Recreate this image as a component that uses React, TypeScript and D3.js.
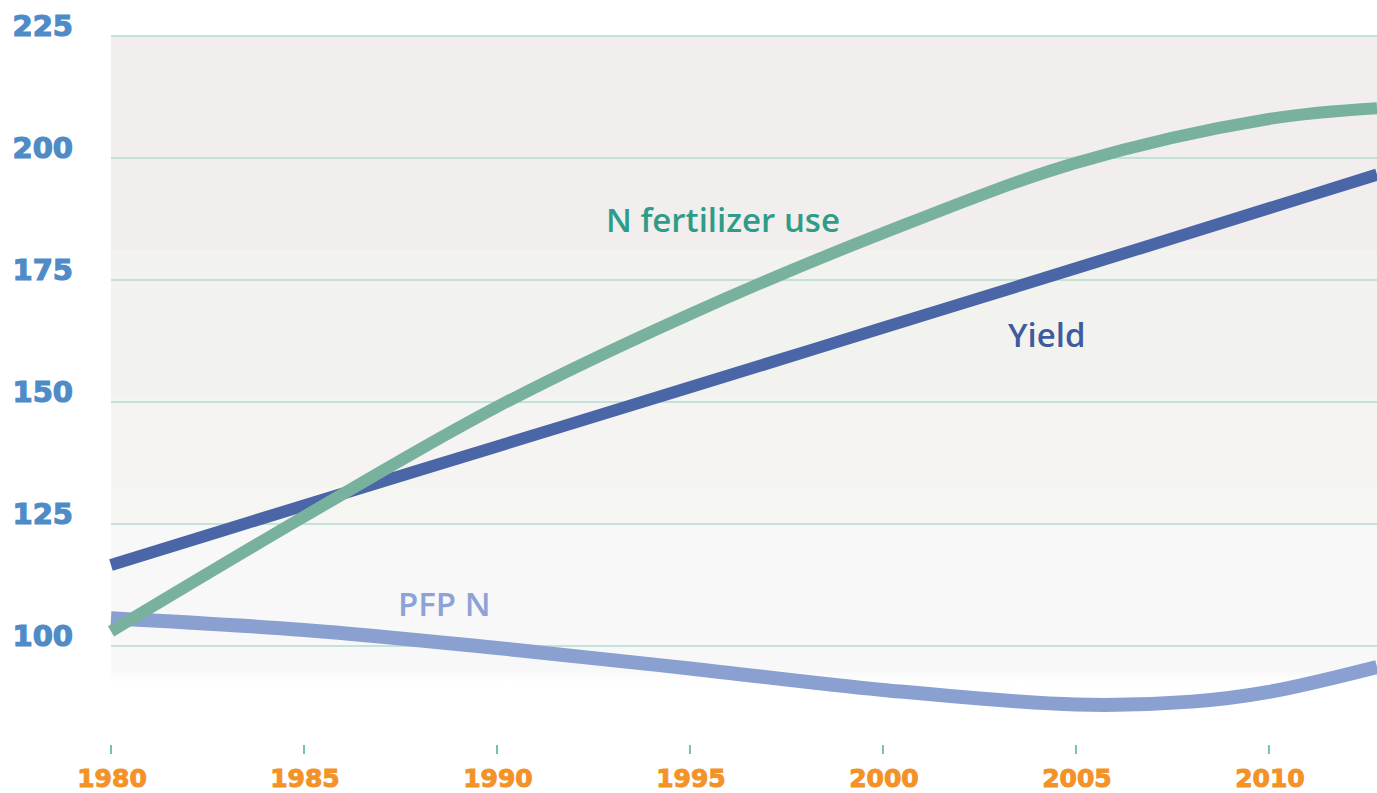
import { useEffect, useRef } from 'react'
import * as d3 from 'd3'

const WIDTH = 1377
const HEIGHT = 793

// values
const years = [1980, 1985, 1990, 1995, 2000, 2005, 2010, 2012.8]
const fertilizerUse = [103.0, 126.5, 149.0, 168.0, 184.6, 199.0, 208.0, 210.2]
const yieldValues = [116.6, 128.8, 140.9, 153.0, 165.2, 177.4, 189.7, 196.6]
const pfpYears = [1980, 1985, 1990, 1995, 2000, 2005, 2008, 2010, 2012.8]
const pfpN = [105.7, 103.3, 99.6, 95.4, 91.0, 88.0, 88.6, 90.6, 95.7]

const yTicks = [100, 125, 150, 175, 200, 225]
const xTicks = [1980, 1985, 1990, 1995, 2000, 2005, 2010]

// soft background bands (value ranges, top to bottom)
const bandTops = [225, 181, 151, 133, 125]
const bandBottoms = [181, 151, 133, 125, 95]
const bandColors = ['#f2eeee', '#f2f3ee', '#f6f3f3', '#f5f6f1', '#f8f8f8']

export default function App() {
  const svgRef = useRef<SVGSVGElement | null>(null)

  useEffect(() => {
    document.body.style.margin = '0'
    const svgNode = svgRef.current
    if (!svgNode) return

    const svg = d3.select(svgNode)
    svg.selectAll('*').remove()

    const x = d3.scaleLinear().domain([1980, 2012.8]).range([111, 1377])
    const y = d3.scaleLinear().domain([100, 225]).range([646, 36])

    const defs = svg.append('defs')
    const fade = defs.append('linearGradient')
      .attr('id', 'bottom-fade')
      .attr('x1', '0%').attr('x2', '0%').attr('y1', '0%').attr('y2', '100%')
    fade.append('stop').attr('offset', '0%').attr('stop-color', '#f8f8f8')
    fade.append('stop').attr('offset', '100%').attr('stop-color', '#ffffff')

    defs.append('clipPath').attr('id', 'plot-clip')
      .append('rect')
      .attr('x', x(1980) - 10)
      .attr('y', 0)
      .attr('width', x(2012.8) - x(1980) + 10)
      .attr('height', HEIGHT)

    const bg = svg.append('g')
    bg.selectAll('rect.band')
      .data(bandTops.map((top, i) => ({ top, bottom: bandBottoms[i], color: bandColors[i] })))
      .join('rect')
      .attr('class', 'band')
      .attr('x', x(1980))
      .attr('width', x(2012.8) - x(1980))
      .attr('y', d => y(d.top))
      .attr('height', d => y(d.bottom) - y(d.top))
      .attr('fill', d => d.color)

    bg.append('rect')
      .attr('x', x(1980))
      .attr('width', x(2012.8) - x(1980))
      .attr('y', y(95))
      .attr('height', y(92.5) - y(95))
      .attr('fill', 'url(#bottom-fade)')

    // gridlines
    svg.append('g')
      .selectAll('line')
      .data(yTicks)
      .join('line')
      .attr('x1', x(1980))
      .attr('x2', x(2012.8))
      .attr('y1', d => y(d))
      .attr('y2', d => y(d))
      .attr('stroke', '#b2dcd1')
      .attr('stroke-width', 1.5)

    // y labels
    svg.append('g')
      .selectAll('text')
      .data(yTicks)
      .join('text')
      .attr('x', 73)
      .attr('y', d => y(d) - 10)
      .attr('dy', '0.36em')
      .attr('text-anchor', 'end')
      .attr('fill', '#4f8bc7')
      .attr('stroke', '#4f8bc7')
      .attr('stroke-width', 1.2)
      .attr('font-family', '"DejaVu Sans", sans-serif')
      .attr('font-weight', 'bold')
      .attr('font-size', 29)
      .text(d => d)

    // x ticks and labels
    const xAxis = svg.append('g')
    xAxis.selectAll('line')
      .data(xTicks)
      .join('line')
      .attr('x1', d => x(d))
      .attr('x2', d => x(d))
      .attr('y1', 745)
      .attr('y2', 754)
      .attr('stroke', '#72c3b0')
      .attr('stroke-width', 2)

    xAxis.selectAll('text')
      .data(xTicks)
      .join('text')
      .attr('x', d => x(d) + 1)
      .attr('y', 787)
      .attr('text-anchor', 'middle')
      .attr('fill', '#f39227')
      .attr('stroke', '#f39227')
      .attr('stroke-width', 1)
      .attr('font-family', '"DejaVu Sans", sans-serif')
      .attr('font-weight', 'bold')
      .attr('font-size', 25)
      .text(d => d)

    const lines = svg.append('g').attr('clip-path', 'url(#plot-clip)')

    const line = d3.line<[number, number]>()
      .x(d => x(d[0]))
      .y(d => y(d[1]))
      .curve(d3.curveCatmullRom.alpha(0.5))

    const series = [
      { pts: pfpYears.map((yr, i) => [yr, pfpN[i]] as [number, number]), color: '#8aa0d1', width: 14 },
      { pts: years.map((yr, i) => [yr, yieldValues[i]] as [number, number]), color: '#4a66a7', width: 12 },
      { pts: years.map((yr, i) => [yr, fertilizerUse[i]] as [number, number]), color: '#79b19f', width: 12 },
    ]

    lines.selectAll('path')
      .data(series)
      .join('path')
      .attr('d', d => line(d.pts))
      .attr('fill', 'none')
      .attr('stroke', d => d.color)
      .attr('stroke-width', d => d.width)
      .attr('stroke-linecap', 'butt')

    // series labels
    const labels = [
      { text: 'N fertilizer use', x: 606, y: 232, color: '#2f9c88' },
      { text: 'Yield', x: 1008, y: 347, color: '#3f5b9f' },
      { text: 'PFP N', x: 398, y: 616, color: '#8da3d7' },
    ]
    svg.append('g')
      .selectAll('text')
      .data(labels)
      .join('text')
      .attr('x', d => d.x)
      .attr('y', d => d.y)
      .attr('fill', d => d.color)
      .attr('font-family', '"Open Sans", sans-serif')
      .attr('font-weight', 600)
      .attr('font-size', 33)
      .text(d => d.text)
  }, [])

  return <svg ref={svgRef} width={WIDTH} height={HEIGHT} style={{ display: 'block', background: '#ffffff' }} />
}
